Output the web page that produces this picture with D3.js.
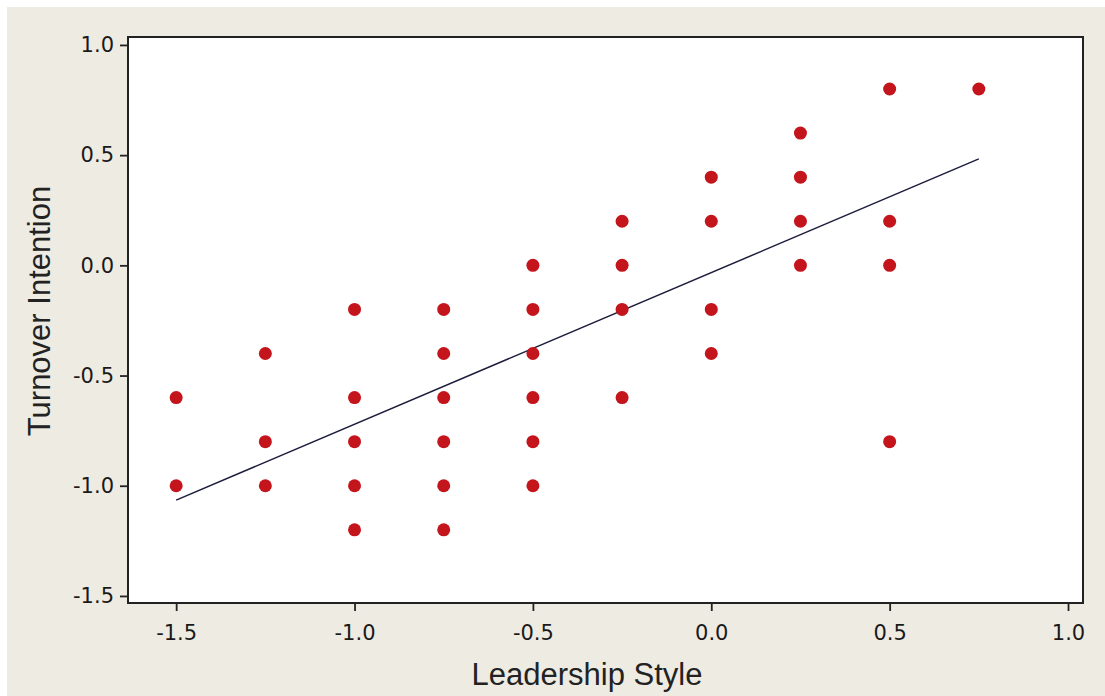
<!DOCTYPE html>
<html>
<head>
<meta charset="utf-8">
<script src="https://cdn.jsdelivr.net/npm/d3@7"></script>
<style>
  html, body { margin: 0; padding: 0; background: #ffffff; }
  svg { display: block; }
</style>
</head>
<body>
<svg id="chart" width="1105" height="696"></svg>
<script>
// Leadership style (x) vs. turnover intention (y)
const leadership = [-1.5, -1.5,
  -1.25, -1.25, -1.25,
  -1.0, -1.0, -1.0, -1.0, -1.0,
  -0.75, -0.75, -0.75, -0.75, -0.75, -0.75,
  -0.5, -0.5, -0.5, -0.5, -0.5, -0.5,
  -0.25, -0.25, -0.25, -0.25,
  0.0, 0.0, 0.0, 0.0,
  0.25, 0.25, 0.25, 0.25,
  0.5, 0.5, 0.5, 0.5,
  0.75];
const turnover = [-0.6, -1.0,
  -0.4, -0.8, -1.0,
  -0.2, -0.6, -0.8, -1.0, -1.2,
  -0.2, -0.4, -0.6, -0.8, -1.0, -1.2,
  0.0, -0.2, -0.4, -0.6, -0.8, -1.0,
  0.2, 0.0, -0.2, -0.6,
  0.4, 0.2, -0.2, -0.4,
  0.6, 0.4, 0.2, 0.0,
  0.8, 0.2, 0.0, -0.8,
  0.8];

// Fitted line endpoints
const fitX = [-1.5, 0.75];
const fitY = [-1.065, 0.483];

const xTicks = [-1.5, -1.0, -0.5, 0.0, 0.5, 1.0];
const yTicks = [1.0, 0.5, 0.0, -0.5, -1.0, -1.5];

const svg = d3.select("#chart");
const W = 1105, H = 696;
const plot = { left: 128, top: 37, right: 1083, bottom: 603 };

// page background
svg.append("rect").attr("x", 0).attr("y", 0).attr("width", W).attr("height", H).attr("fill", "#ffffff");
svg.append("rect").attr("x", 7).attr("y", 7).attr("width", W - 7).attr("height", H - 7).attr("fill", "#eeebe3");

const x = d3.scaleLinear().domain([-1.635, 1.042]).range([plot.left, plot.right]);
const y = d3.scaleLinear().domain([-1.532, 1.036]).range([plot.bottom, plot.top]);

// plot area
svg.append("rect")
  .attr("x", plot.left).attr("y", plot.top)
  .attr("width", plot.right - plot.left).attr("height", plot.bottom - plot.top)
  .attr("fill", "#ffffff");

// one decimal, plain hyphen for negatives
const fmt = v => v.toFixed(1);

const xAxis = svg.append("g")
  .attr("transform", `translate(0,${plot.bottom})`)
  .call(d3.axisBottom(x).tickValues(xTicks).tickFormat(fmt).tickSize(8).tickPadding(10));
const yAxis = svg.append("g")
  .attr("transform", `translate(${plot.left},0)`)
  .call(d3.axisLeft(y).tickValues(yTicks).tickFormat(fmt).tickSize(8).tickPadding(6));

[xAxis, yAxis].forEach(g => {
  g.select(".domain").remove();
  g.selectAll(".tick line").attr("stroke", "#222").attr("stroke-width", 1.8);
  g.selectAll(".tick text")
    .attr("fill", "#1a1a1a")
    .style("font-family", "'DejaVu Sans', Verdana, sans-serif")
    .style("font-size", "21px");
});
xAxis.selectAll(".tick text").attr("dy", "0.9em");

// frame
svg.append("rect")
  .attr("x", plot.left).attr("y", plot.top)
  .attr("width", plot.right - plot.left).attr("height", plot.bottom - plot.top)
  .attr("fill", "none").attr("stroke", "#222").attr("stroke-width", 2);

// regression line
svg.append("line")
  .attr("x1", x(fitX[0])).attr("y1", y(fitY[0]))
  .attr("x2", x(fitX[1])).attr("y2", y(fitY[1]))
  .attr("stroke", "#1c1c3c").attr("stroke-width", 1.5);

// points
svg.append("g").selectAll("circle")
  .data(leadership.map((v, i) => [v, turnover[i]]))
  .join("circle")
  .attr("cx", d => x(d[0]))
  .attr("cy", d => y(d[1]))
  .attr("r", 6.5)
  .attr("fill", "#c4141c");

// axis titles
svg.append("text")
  .attr("x", 587).attr("y", 685)
  .attr("text-anchor", "middle")
  .style("font-family", "'Liberation Sans', Arial, sans-serif")
  .style("font-size", "31px")
  .attr("fill", "#222")
  .text("Leadership Style");

svg.append("text")
  .attr("transform", "translate(50,311) rotate(-90)")
  .attr("text-anchor", "middle")
  .style("font-family", "'Liberation Sans', Arial, sans-serif")
  .style("font-size", "31px")
  .attr("fill", "#222")
  .text("Turnover Intention");
</script>
</body>
</html>
